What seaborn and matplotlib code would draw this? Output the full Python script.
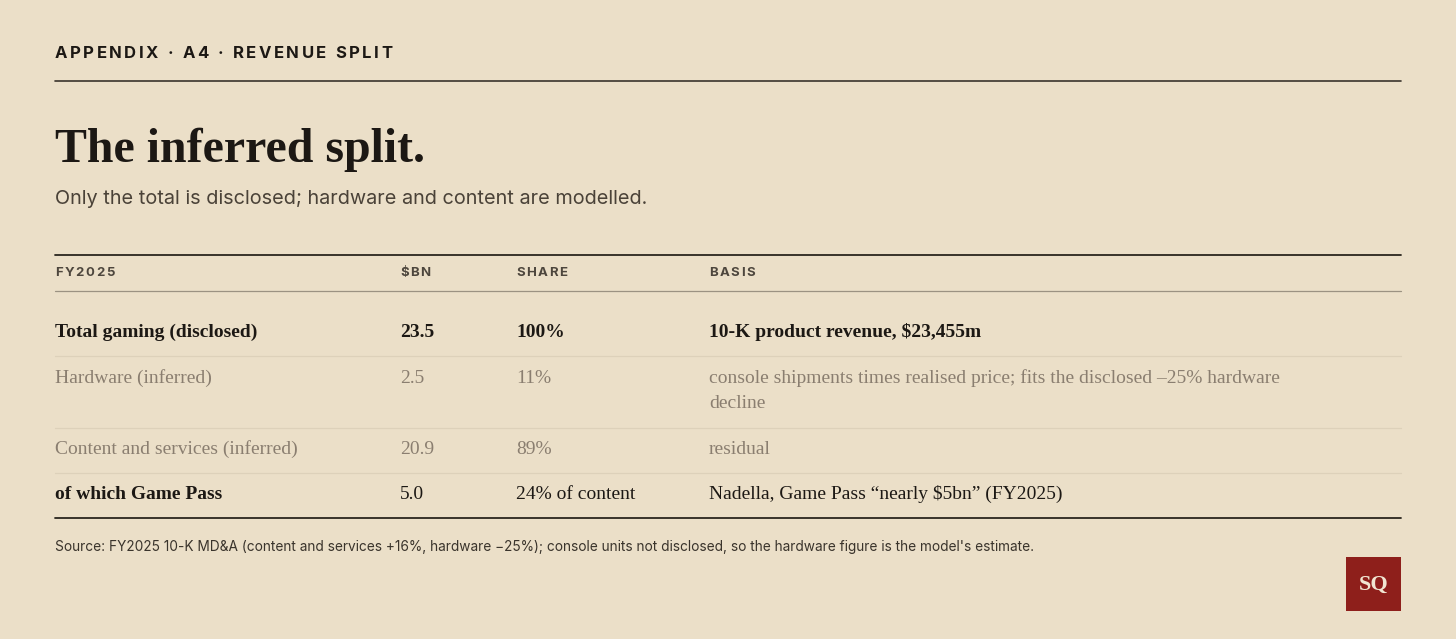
import matplotlib
matplotlib.use("Agg")
import matplotlib.pyplot as plt
import seaborn as sns

# table content
kicker = "APPENDIX · A4 · REVENUE SPLIT"
title = "The inferred split."
subtitle = "Only the total is disclosed; hardware and content are modelled."
columns = ["FY2025", "$BN", "SHARE", "BASIS"]
rows = ["Total gaming (disclosed)", "Hardware (inferred)",
        "Content and services (inferred)", "of which Game Pass"]
bn = ["23.5", "2.5", "20.9", "5.0"]
share = ["100%", "11%", "89%", "24% of content"]
basis = ["10-K product revenue, $23,455m",
         "console shipments times realised price; fits the disclosed \u201325% hardware\ndecline",
         "residual",
         "Nadella, Game Pass \u201cnearly $5bn\u201d (FY2025)"]
row_style = ["bold", "inferred", "inferred", "label"]
source = ("Source: FY2025 10-K MD&A (content and services +16%, hardware \u221225%); "
          "console units not disclosed, so the hardware figure is the model's estimate.")

BG = "#ebdfc8"
INK = "#1c1814"
MUTED = "#8a7e70"
SERIF = ["Liberation Serif", "DejaVu Serif"]
SANS = ["Inter", "DejaVu Sans"]

sns.set_theme(style="white", rc={"figure.facecolor": BG, "axes.facecolor": BG})
plt.rcParams["font.family"] = SANS

fig = plt.figure(figsize=(14.56, 6.39), dpi=100)
ax = fig.add_axes([0, 0, 1, 1])
ax.set_xlim(0, 1456)
ax.set_ylim(639, 0)
ax.axis("off")
renderer = fig.canvas.get_renderer()


def spaced(x, y, s, size, spacing, color, weight="bold"):
    # draw caps with extra tracking, one glyph at a time
    for ch in s:
        t = ax.text(x, y, ch, fontsize=size, fontweight=weight, color=color,
                    family=SANS, va="center", ha="left")
        w = t.get_window_extent(renderer).width
        if ch == " ":
            w = size * 0.38
        x += w + spacing


spaced(55, 54, kicker, 12, 2.4, INK)
ax.plot([55, 1401], [81, 81], color="#3a342c", lw=1.2)

ax.text(55, 162, title, fontsize=34.5, fontweight="bold", family=SERIF,
        color=INK, va="baseline")
ax.text(55, 199, subtitle, fontsize=14.3, color="#4a4238", va="center")

col_x = [55, 400, 516, 709]
ax.plot([55, 1401], [255, 255], color="#2a251e", lw=1.3)
for cx, c in zip(col_x, columns):
    spaced(cx, 273, c, 9.5, 1.6, "#4d463d")
ax.plot([55, 1401], [291, 291], color="#9b9282", lw=0.9)

row_y = [332, 378, 449, 494]
sep_y = [356, 428, 473]
for y, name, b, s, bas, st in zip(row_y, rows, bn, share, basis, row_style):
    color = MUTED if st == "inferred" else INK
    for i, (cx, val) in enumerate(zip(col_x, [name, b, s, bas])):
        weight = "bold" if st == "bold" or (st == "label" and i == 0) else "normal"
        for k, line in enumerate(val.split("\n")):
            ax.text(cx, y + 5 + 25 * k, line, fontsize=14, fontweight=weight,
                    family=SERIF, color=color, va="baseline")
for y in sep_y:
    ax.plot([55, 1401], [y, y], color="#ddd1ba", lw=0.9)
ax.plot([55, 1401], [518, 518], color="#2a251e", lw=1.3)

ax.text(55, 547, source, fontsize=9.85, color="#3a342c", va="center")

ax.add_patch(plt.Rectangle((1346, 557), 55, 54, color="#8e1f1b", lw=0))
ax.text(1373.5, 585, "SQ", fontsize=16, fontweight="bold", family=SERIF,
        color="#f1e6d2", ha="center", va="center")

fig.savefig("out.png", dpi=100, facecolor=BG)
